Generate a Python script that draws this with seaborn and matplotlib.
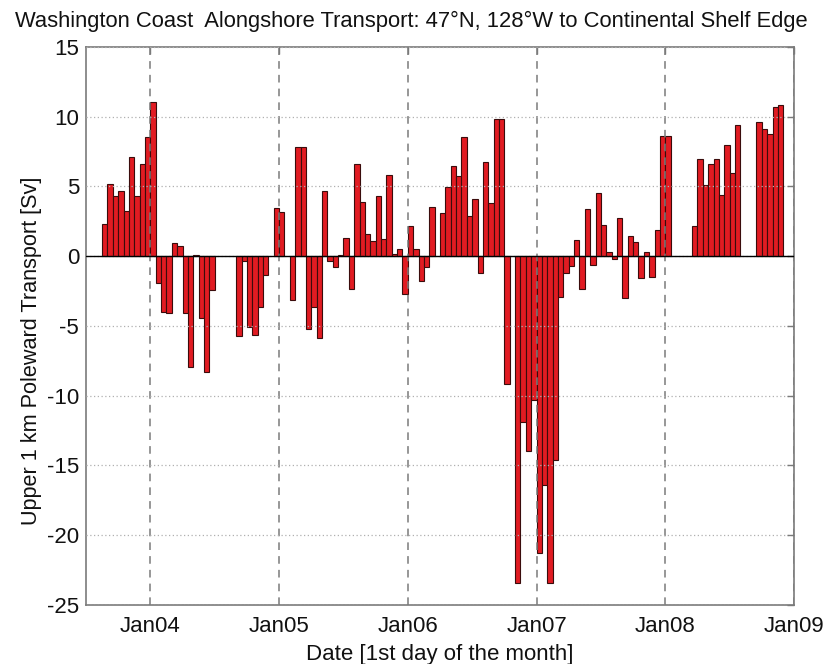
import numpy as np
import pandas as pd
import matplotlib
matplotlib.use('Agg')
import matplotlib.pyplot as plt
import seaborn as sns

nan = np.nan

# semi-monthly samples, Aug 2003 - Nov 2008 (1st and 15th of each month)
dates = pd.date_range('2003-08-15', '2008-11-15', freq='SMS')

# upper 1 km poleward transport [Sv] (nan = no data)
transport = [
    2.34, 5.17, 4.35, 4.69, 3.25, 7.13, 4.31, 6.58, 8.52,
    11.08, -1.95, -4.0, -4.05, 0.93, 0.7, -4.05, -7.93, 0.1, -4.45, -8.3, -2.44,
    nan, nan, nan, nan,
    -5.73, -0.33, -5.06, -5.65, -3.63, -1.36,
    nan,
    3.42, 3.16,
    nan,
    -3.16,
    7.85, 7.85,
    -5.2, -3.64, -5.84,
    4.69, -0.33, -0.77, 0.12, 1.27, -2.32, 6.6, 3.85, 1.58, 1.08, 4.35, 1.22, 5.81, 0.19, 0.55, -2.68,
    2.15, 0.55, -1.77, -0.77, 3.54, nan, 3.13, 4.98, 6.46, 5.74, 8.56, 2.87, 4.09, -1.2, 6.72, 3.78,
    9.81, 9.81, -9.18, nan,
    -23.4, -11.9, -13.95, -10.3, -21.3, -16.4, -23.4, -14.6,
    -2.9, -1.2, -0.7, 1.18, -2.32, 3.35, -0.62, 4.52, 2.22, 0.33, -0.2, 2.75, -3.0, 1.48, 1.0, -1.53, 0.28, -1.48, 1.91,
    8.64, 8.64,
    nan, nan, nan, nan,
    2.15, 7.0, 5.09, 6.6, 6.95, 4.37, 8.0, 5.93, 9.44,
    nan, nan, nan,
    9.6, 9.1, 8.76, 10.7, 10.84,
]

tick_dates = pd.to_datetime(['2004-01-01', '2005-01-01', '2006-01-01',
                             '2007-01-01', '2008-01-01', '2009-01-01'])
tick_labels = ['Jan04', 'Jan05', 'Jan06', 'Jan07', 'Jan08', 'Jan09']


def half_months(d):
    # half-month count from Jan 2004
    d = pd.DatetimeIndex(d)
    return (d.year - 2004) * 24 + (d.month - 1) * 2 + (d.day > 1).astype(int)


df = pd.DataFrame({'date': dates, 'transport': transport})
df['pos'] = half_months(df['date']) + 0.5
df = df.dropna()

sns.set_theme(style='white')
plt.rcParams['font.family'] = ['Liberation Sans', 'DejaVu Sans']
plt.rcParams['axes.unicode_minus'] = False

fig = plt.figure(figsize=(8.23, 6.64), dpi=100)
ax = fig.add_axes([0.1045, 0.0889, 0.8603, 0.8404])

sns.barplot(data=df, x='pos', y='transport', native_scale=True, width=1.0,
            color='#e11b22', saturation=1, edgecolor='#3a0c0c', linewidth=0.8,
            errorbar=None, ax=ax)

ax.axhline(0, color='black', lw=1.0, zorder=3)

ax.set_xlim(-12, 120)
ax.set_ylim(-25, 15)
ax.set_xticks(half_months(tick_dates))
ax.set_xticklabels(tick_labels)
ax.set_yticks(np.arange(-25, 16, 5))

ax.xaxis.grid(True, linestyle=(0, (5, 4)), color='#7a7a7a', lw=1.1)
ax.yaxis.grid(True, linestyle=(0, (1, 2)), color='#b0b0b0', lw=0.9)
ax.set_axisbelow(False)

for s in ax.spines.values():
    s.set_color('#7a7a7a')
    s.set_linewidth(1.2)
ax.tick_params(direction='in', length=5, width=1, color='#7a7a7a',
               top=True, right=True, labelsize=16, labelcolor='#111111')
ax.tick_params(axis='x', pad=8)
ax.tick_params(axis='y', pad=5)

fig.text(0.5, 0.967,
         'Washington Coast  Alongshore Transport: 47\u00b0N, 128\u00b0W to Continental Shelf Edge',
         fontsize=15.8, ha='center', va='center', color='#111111')
ax.set_xlabel('Date [1st day of the month]', fontsize=16, labelpad=5, color='#111111')
ax.set_ylabel('Upper 1 km Poleward Transport [Sv]', fontsize=15.6, labelpad=7, color='#111111')
ax.yaxis.set_label_coords(-0.062, 0.455)

fig.savefig('out.png', dpi=100)
